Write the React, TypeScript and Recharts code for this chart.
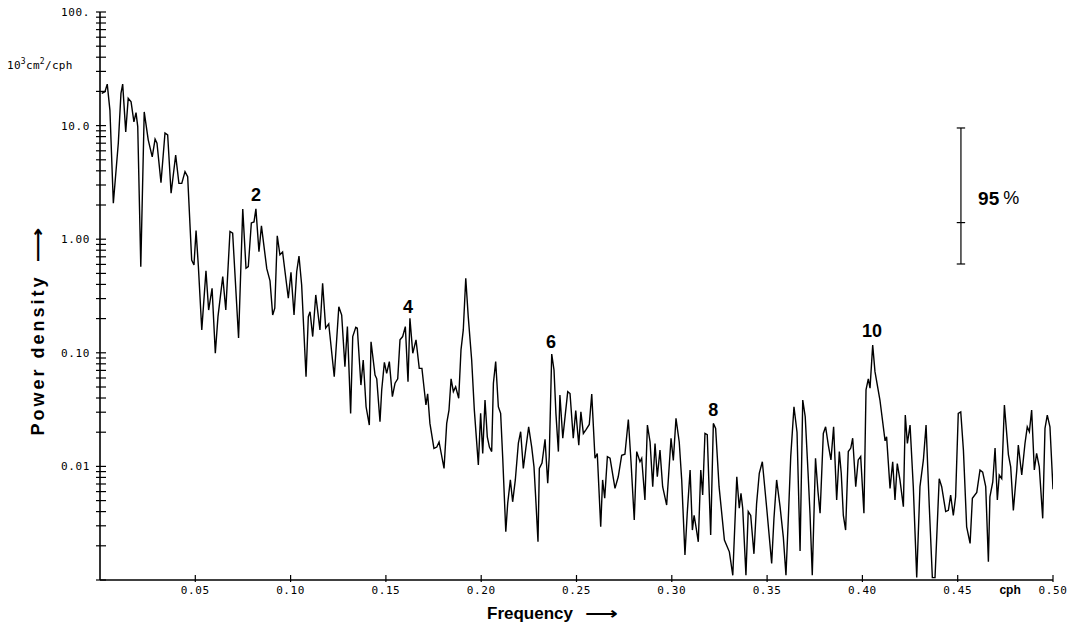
import React from 'react';
import { LineChart, Line, XAxis, YAxis, ReferenceDot, ReferenceLine } from 'recharts';

// Frequency (cph)
const freq = [
  0.0009,0.0026,0.0038,0.0052,0.0070,0.0096,0.0110,0.0119,0.0135,0.0148,
  0.0163,0.0178,0.0189,0.0198,0.0214,0.0232,0.0253,0.0274,0.0289,0.0299,
  0.0320,0.0341,0.0355,0.0373,0.0397,0.0414,0.0429,0.0446,0.0460,0.0481,
  0.0493,0.0504,0.0516,0.0534,0.0556,0.0570,0.0588,0.0605,0.0619,0.0644,
  0.0660,0.0682,0.0696,0.0727,0.0749,0.0766,0.0778,0.0794,0.0808,0.0818,
  0.0834,0.0847,0.0875,0.0892,0.0906,0.0917,0.0930,0.0944,0.0958,0.0988,
  0.1002,0.1018,0.1032,0.1044,0.1058,0.1081,0.1093,0.1102,0.1116,0.1132,
  0.1154,0.1168,0.1184,0.1200,0.1229,0.1253,0.1268,0.1285,0.1298,0.1315,
  0.1326,0.1342,0.1350,0.1369,0.1381,0.1396,0.1413,0.1422,0.1443,0.1452,
  0.1469,0.1478,0.1492,0.1504,0.1518,0.1534,0.1548,0.1562,0.1574,0.1588,
  0.1602,0.1616,0.1626,0.1641,0.1658,0.1675,0.1689,0.1710,0.1719,0.1731,
  0.1752,0.1767,0.1779,0.1805,0.1819,0.1831,0.1842,0.1854,0.1866,0.1882,
  0.1894,0.1906,0.1919,0.1932,0.1950,0.1964,0.1985,0.1997,0.2008,0.2020,
  0.2032,0.2043,0.2055,0.2064,0.2076,0.2090,0.2102,0.2113,0.2129,0.2139,
  0.2153,0.2165,0.2179,0.2195,0.2207,0.2221,0.2235,0.2249,0.2265,0.2277,
  0.2288,0.2298,0.2305,0.2319,0.2335,0.2349,0.2357,0.2370,0.2382,0.2392,
  0.2405,0.2413,0.2428,0.2440,0.2454,0.2466,0.2483,0.2496,0.2512,0.2523,
  0.2536,0.2551,0.2567,0.2580,0.2597,0.2609,0.2627,0.2637,0.2648,0.2662,
  0.2676,0.2702,0.2719,0.2737,0.2754,0.2772,0.2786,0.2803,0.2816,0.2833,
  0.2842,0.2859,0.2872,0.2886,0.2900,0.2912,0.2924,0.2938,0.2952,0.2973,
  0.2996,0.3008,0.3022,0.3039,0.3052,0.3069,0.3081,0.3096,0.3108,0.3117,
  0.3127,0.3139,0.3152,0.3162,0.3174,0.3186,0.3204,0.3218,0.3230,0.3248,
  0.3276,0.3302,0.3320,0.3341,0.3354,0.3363,0.3372,0.3389,0.3401,0.3414,
  0.3431,0.3445,0.3459,0.3475,0.3498,0.3524,0.3536,0.3550,0.3568,0.3585,
  0.3599,0.3611,0.3624,0.3641,0.3657,0.3673,0.3687,0.3700,0.3715,0.3725,
  0.3737,0.3754,0.3767,0.3778,0.3795,0.3807,0.3821,0.3835,0.3849,0.3865,
  0.3879,0.3889,0.3900,0.3912,0.3926,0.3939,0.3949,0.3965,0.3978,0.3991,
  0.4008,0.4019,0.4031,0.4040,0.4054,0.4066,0.4092,0.4119,0.4127,0.4145,
  0.4159,0.4171,0.4183,0.4197,0.4215,0.4225,0.4236,0.4250,0.4267,0.4285,
  0.4302,0.4320,0.4334,0.4351,0.4367,0.4381,0.4403,0.4416,0.4437,0.4451,
  0.4463,0.4477,0.4489,0.4503,0.4516,0.4530,0.4547,0.4565,0.4577,0.4600,
  0.4617,0.4631,0.4647,0.4661,0.4669,0.4684,0.4696,0.4708,0.4718,0.4731,
  0.4745,0.4766,0.4778,0.4792,0.4810,0.4818,0.4836,0.4853,0.4865,0.4876,
  0.4888,0.4902,0.4914,0.4928,0.4946,0.4958,0.4970,0.4984,0.5000,
];

// Power density (10^3 cm^2/cph)
const power = [
  19.2,19.9,23.2,13.7,2.07,7.0,19.2,23.2,8.8,17.4,
  16.2,10.8,13.0,9.8,0.573,13.2,7.5,5.3,7.6,7.0,
  3.14,8.6,8.3,2.54,5.5,3.1,3.1,3.93,3.55,0.656,
  0.593,1.19,0.58,0.159,0.528,0.238,0.37,0.099,0.208,0.468,
  0.238,1.17,1.13,0.135,1.84,0.555,0.573,1.39,1.42,1.85,
  0.776,1.31,0.55,0.43,0.215,0.247,1.07,0.73,0.77,0.302,
  0.51,0.215,0.517,0.711,0.395,0.0616,0.208,0.23,0.139,0.323,
  0.159,0.41,0.165,0.18,0.0616,0.254,0.215,0.0755,0.17,0.0293,
  0.139,0.168,0.165,0.052,0.0865,0.0335,0.0231,0.125,0.0638,0.059,
  0.0247,0.0471,0.0824,0.066,0.0836,0.0411,0.054,0.059,0.13,0.139,
  0.17,0.0557,0.201,0.099,0.13,0.073,0.073,0.0347,0.0436,0.0239,
  0.0144,0.0148,0.0164,0.0096,0.0239,0.0313,0.059,0.0455,0.0503,0.0398,
  0.106,0.159,0.453,0.208,0.0865,0.0313,0.0103,0.0293,0.013,0.0384,
  0.0182,0.0148,0.0135,0.054,0.0836,0.0335,0.0293,0.0118,0.00266,0.00473,
  0.0076,0.00488,0.0076,0.016,0.0202,0.0096,0.0148,0.0223,0.0148,0.0099,
  0.00457,0.00217,0.0096,0.0107,0.0173,0.0071,0.0122,0.0975,0.0706,0.0293,
  0.0135,0.0425,0.0177,0.0274,0.0455,0.0438,0.0177,0.031,0.0154,0.0302,
  0.0195,0.0212,0.0234,0.0433,0.0118,0.013,0.00294,0.0076,0.00524,0.0122,
  0.0118,0.0064,0.0081,0.0125,0.0128,0.0259,0.011,0.00337,0.0135,0.011,
  0.0118,0.00506,0.0231,0.0164,0.00663,0.0159,0.0081,0.0139,0.00663,0.00457,
  0.0177,0.0113,0.0265,0.0164,0.0076,0.00166,0.00387,0.0093,0.00275,0.0037,
  0.00294,0.00217,0.0093,0.0056,0.0195,0.019,0.00249,0.0239,0.0216,0.00663,
  0.00225,0.00177,0.0011,0.0081,0.00428,0.0058,0.00428,0.0011,0.004,0.0037,
  0.0017,0.00473,0.0087,0.011,0.00428,0.0014,0.00349,0.0076,0.00442,0.0024,
  0.0011,0.00337,0.0122,0.0335,0.02,0.0018,0.0384,0.0274,0.0087,0.00387,
  0.0011,0.0118,0.006,0.00387,0.0195,0.0223,0.0155,0.0114,0.0223,0.00506,
  0.0135,0.0087,0.0037,0.00275,0.0135,0.0145,0.0177,0.00663,0.0114,0.0122,
  0.00387,0.0471,0.059,0.0489,0.117,0.0682,0.0384,0.0168,0.0182,0.0064,
  0.011,0.00506,0.0106,0.0076,0.00442,0.0283,0.0159,0.0231,0.00663,0.00105,
  0.00663,0.0114,0.0231,0.00442,0.00105,0.00105,0.0078,0.00663,0.004,0.0041,
  0.0056,0.0037,0.0054,0.0293,0.0302,0.0139,0.00294,0.0021,0.00524,0.0059,
  0.0093,0.0089,0.00663,0.00145,0.0054,0.0073,0.0145,0.00506,0.0084,0.0078,
  0.0347,0.0127,0.0099,0.0041,0.0093,0.0154,0.0084,0.0159,0.0223,0.0202,
  0.0313,0.0093,0.013,0.0099,0.00349,0.0216,0.0283,0.0223,0.0063,
];

// Axis ticks
const xTickValues = [0.05, 0.1, 0.15, 0.2, 0.25, 0.3, 0.35, 0.4, 0.45, 0.4775, 0.5];
const xTickLabels = ['0.05', '0.10', '0.15', '0.20', '0.25', '0.30', '0.35', '0.40', '0.45', 'cph', '0.50'];
const yDecades = [0.001, 0.01, 0.1, 1, 10];
const yMultipliers = [1, 2, 3, 4, 5, 6, 7, 8, 9];
const yLabelValues = [100, 10, 1, 0.1, 0.01];
const yLabelTexts = ['100.', '10.0', '1.00', '0.10', '0.01'];

// Peak annotations
const peakLabels = ['2', '4', '6', '8', '10'];
const peakFreq = [0.0818, 0.1616, 0.2366, 0.3218, 0.4050];
const peakPower = [2.45, 0.253, 0.124, 0.0314, 0.156];

// 95% confidence bar
const ciFreq = 0.4517;
const ciTop = 9.53;
const ciMid = 1.4;
const ciBottom = 0.605;
const ciTextFreq = 0.4607;
const ciTextPower = 2.31;

const data = freq.map((f, i) => ({ f, p: power[i] }));
const yTicks = [
  ...yDecades.flatMap((d) => yMultipliers.map((m) => +(d * m).toPrecision(3))),
  100,
];

const MONO = '"DejaVu Sans Mono", monospace';
const SANS = '"Liberation Sans", Arial, "DejaVu Sans", sans-serif';

function XTick(props: any) {
  const { x, y, payload } = props;
  const i = xTickValues.findIndex((t) => Math.abs(t - payload.value) < 1e-6);
  const label = xTickLabels[i];
  if (label === 'cph') {
    return (
      <text x={x} y={y + 14} textAnchor="middle" fontFamily={SANS} fontWeight="bold" fontSize={12} fill="#000">
        cph
      </text>
    );
  }
  return (
    <g>
      <line x1={x} x2={x} y1={y - 5} y2={y + 2} stroke="#000" strokeWidth={1.2} />
      <text x={x} y={y + 14} textAnchor="middle" fontFamily={MONO} fontSize={11} letterSpacing={0.6} fill="#000">
        {label}
      </text>
    </g>
  );
}

function YTick(props: any) {
  const { x, y, payload } = props;
  const i = yLabelValues.findIndex((t) => Math.abs(t - payload.value) / t < 1e-6);
  return (
    <g>
      <line x1={x - 4} x2={x + 6} y1={y} y2={y} stroke="#000" strokeWidth={1.2} />
      {i >= 0 && (
        <text x={x - 10} y={y + 4} textAnchor="end" fontFamily={MONO} fontSize={11} letterSpacing={0.6} fill="#000">
          {yLabelTexts[i]}
        </text>
      )}
    </g>
  );
}

const arrowStyle: React.CSSProperties = {
  display: 'inline-block',
  marginLeft: 12,
  transform: 'scaleX(1.35)',
  transformOrigin: 'left center',
  fontFamily: '"DejaVu Sans", sans-serif',
};

export default function App() {
  return (
    <div style={{ position: 'absolute', left: 0, top: 0, width: 1079, height: 630, background: '#fff' }}>
      <LineChart
        width={1079}
        height={630}
        data={data}
        margin={{ top: 12, right: 26, bottom: 0, left: 0 }}
      >
        <XAxis
          dataKey="f"
          type="number"
          domain={[0, 0.5]}
          allowDataOverflow
          ticks={xTickValues}
          interval={0}
          tickSize={0}
          tickMargin={0}
          tickLine={false}
          tick={<XTick />}
          height={50}
          axisLine={{ stroke: '#000', strokeWidth: 1.6 }}
        />
        <YAxis
          type="number"
          scale="log"
          domain={[0.001, 100]}
          allowDataOverflow
          ticks={yTicks}
          interval={0}
          tickSize={0}
          tickMargin={0}
          tickLine={false}
          tick={<YTick />}
          width={100}
          axisLine={{ stroke: '#000', strokeWidth: 1.6 }}
        />
        <Line
          type="linear"
          dataKey="p"
          stroke="#000"
          strokeWidth={1.4}
          dot={false}
          isAnimationActive={false}
        />
        {peakLabels.map((lab, i) => (
          <ReferenceDot
            key={lab}
            x={peakFreq[i]}
            y={peakPower[i]}
            r={0}
            shape={(p: any) => (
              <text
                x={p.cx}
                y={p.cy}
                textAnchor="middle"
                dominantBaseline="central"
                fontFamily={SANS}
                fontWeight="bold"
                fontSize={18}
                fill="#000"
              >
                {lab}
              </text>
            )}
          />
        ))}
        <ReferenceLine
          segment={[{ x: ciFreq, y: ciTop }, { x: ciFreq, y: ciBottom }]}
          stroke="#000"
          strokeWidth={1.2}
        />
        {[ciTop, ciMid, ciBottom].map((v) => (
          <ReferenceLine
            key={v}
            segment={[{ x: ciFreq - 0.0022, y: v }, { x: ciFreq + 0.0022, y: v }]}
            stroke="#000"
            strokeWidth={1.2}
          />
        ))}
        <ReferenceDot
          x={ciTextFreq}
          y={ciTextPower}
          r={0}
          shape={(p: any) => (
            <text x={p.cx} y={p.cy} dominantBaseline="central" fontFamily={SANS} fontSize={19} fill="#000">
              <tspan fontWeight="bold">95</tspan>
              <tspan dx={4} fontWeight="normal" fontSize={18}>%</tspan>
            </text>
          )}
        />
      </LineChart>
      <div
        style={{
          position: 'absolute',
          left: 7,
          top: 55,
          fontFamily: MONO,
          fontSize: 11,
          letterSpacing: 0.3,
          whiteSpace: 'nowrap',
          lineHeight: '14px',
        }}
      >
        10<sup style={{ fontSize: 8 }}>3</sup>cm<sup style={{ fontSize: 8 }}>2</sup>/cph
      </div>
      <div
        style={{
          position: 'absolute',
          left: 487,
          top: 602,
          fontFamily: SANS,
          fontWeight: 'bold',
          fontSize: 17,
          lineHeight: '22px',
          whiteSpace: 'nowrap',
        }}
      >
        Frequency<span style={arrowStyle}>⟶</span>
      </div>
      <div
        style={{
          position: 'absolute',
          left: 38,
          top: 336,
          transform: 'translate(-50%, -50%) rotate(-90deg)',
          fontFamily: SANS,
          fontWeight: 'bold',
          fontSize: 18,
          letterSpacing: 3,
          lineHeight: '22px',
          whiteSpace: 'nowrap',
        }}
      >
        Power density<span style={{ ...arrowStyle, letterSpacing: 0 }}>⟶</span>
      </div>
    </div>
  );
}
